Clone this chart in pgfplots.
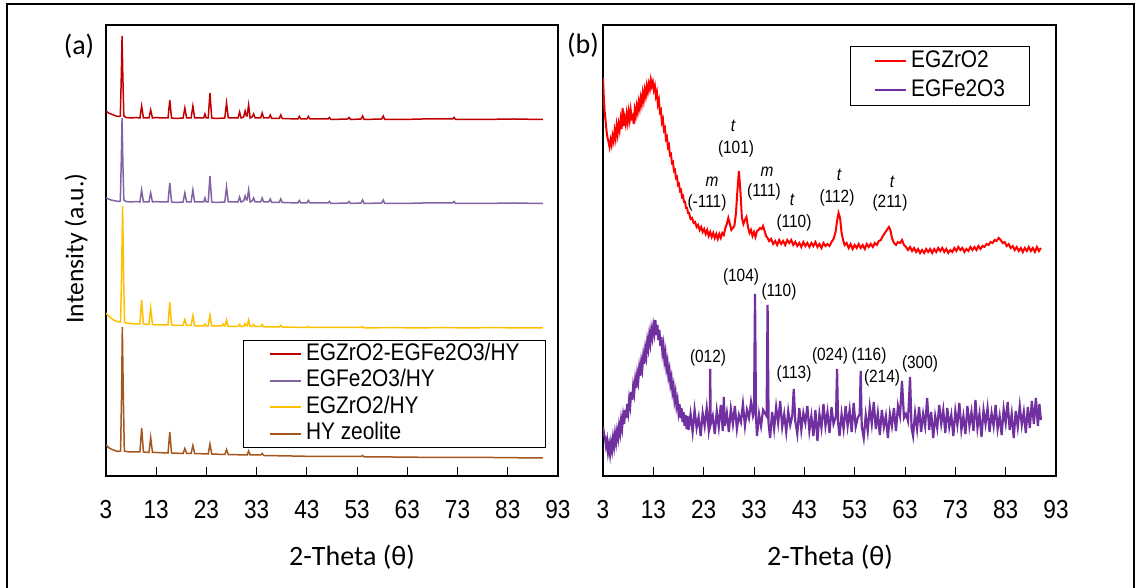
\documentclass[border=0pt]{standalone}
\usepackage{fontspec}
\usepackage{pgfplots}
\pgfplotsset{compat=1.18}
\setmainfont{Liberation Sans}[FakeStretch=0.87]
\newfontfamily\calib{Carlito}

\definecolor{reda}{HTML}{C00000}
\definecolor{purpa}{HTML}{8064A2}
\definecolor{yela}{HTML}{FFC000}
\definecolor{brna}{HTML}{A5561C}
\definecolor{zrred}{rgb}{1,0,0}
\definecolor{purpb}{HTML}{7030A0}

\pgfplotsset{
  xrd/.style={
    scale only axis, height=225.5pt,
    xmin=3, xmax=93, ymin=0, ymax=451,
    xtick={3,13,...,93}, ytick=\empty,
    xtick pos=left, tick align=inside,
    major tick length=4.5pt,
    tick style={black, line width=0.5pt},
    axis line style={line width=0.6pt},
    xticklabel style={font=\fontsize{13}{13}\selectfont, anchor=center, yshift=-17pt},
    /pgf/number format/assume math mode=true,
    legend cell align=left,
  },
}

\begin{document}
\begin{tikzpicture}
\path[use as bounding box] (0pt,0pt) rectangle (570pt,294pt);

% (a) zeolite samples
\begin{axis}[xrd, width=226pt, at={(53pt,56pt)}, anchor=south west,
  legend style={at={(rel axis cs:0.638,0.182)}, anchor=center,
    draw=black, line width=0.5pt, font=\fontsize{12}{12}\selectfont,
    inner xsep=13pt, inner ysep=1.5pt, row sep=2.25pt, column sep=2pt,
    nodes={inner sep=0pt, text height=8.6pt, text depth=2.4pt}},
  legend image code/.code={\draw[#1, line width=0.9pt] (0pt,0pt) -- (15.5pt,0pt);},
]
\addplot[reda, line width=0.75pt] coordinates {
(3,365) (3.5,363) (4,362) (4.5,361) (5,360) (5.5,359.5) (5.85,360) (6.05,400) (6.2,440) (6.35,400) (6.55,360)
(7,358.5) (8,358) (9,358.5) (9.75,358) (10.1,370) (10.45,358) (11.55,358) (11.9,366) (12.25,358) (13,358.5)
(14,358) (15.35,358) (15.7,376) (16.05,358) (17,357.5) (18.35,358) (18.7,368) (19.05,358) (19.95,358) (20.3,370)
(20.65,358) (22.45,358) (22.7,362) (22.95,358) (23.35,358) (23.7,383) (24.05,358) (25,357.5) (26.65,358) (27,373)
(27.35,358) (29.3,358) (29.6,364) (29.9,358) (30.4,359) (30.7,365) (30.95,360) (31.1,360) (31.4,371) (31.7,358)
(32.1,359) (32.4,362) (32.7,358) (33.8,358) (34.1,363) (34.4,358) (35.4,358) (35.7,361) (36,357.5) (37.5,357.5)
(37.8,361) (38.1,357.5) (41.2,357) (41.5,359.5) (41.8,357) (43,357) (43.3,359.5) (43.6,357) (47.2,357) (47.5,358.5)
(47.8,356.5) (51.1,357) (51.4,358.5) (51.7,356.5) (53.8,357) (54.1,360) (54.4,356.5) (57.9,357) (58.2,360) (58.5,356.5)
(62,356.5) (66,357) (72,357) (72.3,358.5) (72.6,356.5) (78,356.5) (84,357) (90,356.5)};
\addlegendentry{EGZrO2-EGFe2O3/HY}
\addplot[purpa, line width=0.75pt] coordinates {
(3,278) (3.5,277) (4,276) (4.5,275.5) (5,275) (5.5,274.5) (5.85,275) (6.05,316) (6.2,358) (6.35,316) (6.55,276)
(7,274.5) (8,274) (9,274.5) (9.75,274) (10.1,286) (10.45,274) (11.55,274) (11.9,283) (12.25,274) (13,274.5)
(14,274) (15.35,274) (15.7,293) (16.05,274) (17,273.5) (18.35,274) (18.7,283) (19.05,274) (19.95,274) (20.3,286)
(20.65,274) (22.45,274) (22.7,278) (22.95,274) (23.35,274) (23.7,300) (24.05,274) (25,273.5) (26.65,274) (27,289)
(27.35,274) (29.3,274) (29.6,279) (29.9,274) (30.4,275) (30.7,280) (30.95,276) (31.1,276) (31.4,286) (31.7,274)
(32.1,275) (32.4,278) (32.7,274) (33.8,274) (34.1,278) (34.4,274) (35.4,274) (35.7,277) (36,273.5) (37.5,273.5)
(37.8,277) (38.1,273.5) (41.2,273) (41.5,275.5) (41.8,273) (43,273) (43.3,275.5) (43.6,273) (47.2,273) (47.5,274.5)
(47.8,272.5) (51.1,273) (51.4,274.5) (51.7,272.5) (53.8,273) (54.1,276) (54.4,272.5) (57.9,273) (58.2,276) (58.5,272.5)
(62,272.5) (66,273) (72,273) (72.3,274.5) (72.6,272.5) (78,272.5) (84,273) (90,272.5)};
\addlegendentry{EGFe2O3/HY}
\addplot[yela, line width=0.75pt] coordinates {
(3,163) (3.5,160) (4,158) (4.5,156) (5,155) (5.5,154) (5.9,154) (6.1,200) (6.3,270) (6.5,200) (6.7,154)
(7,153) (8,152.5) (9,152) (9.75,152) (10.1,176) (10.45,152) (11.55,151.5) (11.9,168) (12.25,151.5) (13,151)
(15.35,151) (15.7,174) (16.05,151) (17,150.5) (18.35,150.5) (18.7,156.5) (19.05,150.5) (19.95,150.5) (20.3,160.5)
(20.65,150) (22.45,150) (22.7,152) (22.95,150) (23.35,150) (23.7,161) (24.05,150) (26,150) (26.3,152) (26.6,150)
(26.75,150) (27,156) (27.35,149.5) (29.3,149.5) (29.6,151.5) (29.9,149.5) (30.4,149.5) (30.7,152.5) (30.95,150)
(31.1,150) (31.4,156) (31.7,149.5) (32.1,149.5) (32.4,151.5) (32.7,149.5) (33.8,149.5) (34.1,151.5) (34.4,149)
(37.5,149) (37.8,150.5) (38.1,149) (43,148.5) (43.3,149.5) (43.6,148.5) (53.8,148.5) (54.1,149.5) (54.4,148)
(60,148.5) (65,148) (70,148.5) (75,148) (80,148.5) (85,148) (90,148)};
\addlegendentry{EGZrO2/HY}
\addplot[brna, line width=0.75pt] coordinates {
(3,31) (3.5,28.5) (4,27) (4.5,26) (5,25) (5.5,24.5) (5.9,25) (6.1,80) (6.25,149) (6.45,80) (6.65,25)
(7,24.5) (8,24) (9,24) (9.75,24) (10.1,48) (10.45,24) (11.55,23.5) (11.9,38.5) (12.25,23.5) (13,23.5)
(15.35,23) (15.7,44) (16.05,23) (18.35,22.5) (18.7,27.5) (19.05,22.5) (19.95,22.5) (20.3,30.5) (20.65,22.5)
(23.35,22) (23.7,32) (24.05,22) (26.65,21.5) (27,26.5) (27.35,21.5) (31.1,21) (31.4,25) (31.7,21)
(33.8,21) (34.1,22.5) (34.4,20.5) (40,20) (45,19.5) (50,19.5) (53.8,19.5) (54.1,20.5) (54.4,19)
(60,19) (70,18.5) (80,18.5) (90,18)};
\addlegendentry{HY zeolite}
\end{axis}

% (b) supported oxides
\begin{axis}[xrd, width=226.5pt, at={(301.5pt,56pt)}, anchor=south west,
  legend style={at={(rel axis cs:0.743,0.887)}, anchor=center,
    draw=black, line width=0.5pt, font=\fontsize{12}{12}\selectfont,
    inner xsep=12pt, inner ysep=2pt, row sep=3.5pt, column sep=2pt,
    nodes={inner sep=0pt, text height=8.6pt, text depth=2.4pt}},
  legend image code/.code={\draw[#1, line width=1pt] (0pt,0pt) -- (15.5pt,0pt);},
]
\addplot[color=zrred, line width=1pt] coordinates {
(3.0,398) (3.15,380) (3.3,366) (3.5,356) (3.7,345) (3.9,338) (4.1,334) (4.3,329) (4.5,336) (4.7,331)
(4.9,340) (5.1,335) (5.3,345) (5.5,338) (5.7,350) (5.9,342) (6.1,352) (6.3,346) (6.5,356) (6.7,347)
(6.9,368) (7.1,350) (7.3,358) (7.5,352) (7.7,362) (7.9,354) (8.1,364) (8.3,356) (8.5,366) (8.7,358)
(8.9,360) (9.1,352) (9.3,366) (9.5,360) (9.7,370) (9.9,364) (10.1,374) (10.3,368) (10.5,378) (10.7,372)
(10.9,383) (11.1,376) (11.3,386) (11.5,380) (11.7,390) (11.9,384) (12.1,392) (12.3,387) (12.5,396) (12.7,390)
(12.9,394) (13.1,386) (13.3,390) (13.5,380) (13.7,384) (13.9,372) (14.1,376) (14.3,364) (14.5,366) (14.7,354)
(14.9,357) (15.1,346) (15.3,348) (15.5,337) (15.7,339) (15.9,329) (16.1,331) (16.3,321) (16.5,322) (16.7,313)
(16.9,314) (17.1,305) (17.3,306) (17.5,298) (17.7,299) (17.9,291) (18.1,292) (18.3,285) (18.5,286) (18.7,279)
(18.9,280) (19.1,274) (19.3,274) (19.5,268) (19.7,268) (19.9,263) (20.1,263) (20.4,257) (20.7,258) (21.0,253)
(21.3,254) (21.6,249) (21.9,251) (22.2,246) (22.5,249) (22.8,244) (23.1,247) (23.4,242) (23.7,246) (24.0,240)
(24.3,244) (24.6,239) (24.9,243) (25.2,238) (25.5,242) (25.8,237) (26.1,242) (26.4,238) (26.7,243) (27.0,241)
(27.3,248) (27.6,252) (27.9,258) (28.2,252) (28.5,246) (28.8,248) (29.1,250) (29.4,262) (29.7,285) (30.0,305)
(30.3,285) (30.6,258) (30.9,252) (31.2,256) (31.5,259) (31.8,249) (32.1,243) (32.4,246) (32.7,240) (33.0,244)
(33.3,239) (33.6,245) (33.9,246) (34.2,248) (34.5,247) (34.8,250) (35.1,245) (35.4,240) (35.7,238) (36.0,235)
(36.4,237) (36.8,232) (37.2,235) (37.6,231) (38.0,236) (38.4,232) (38.8,235) (39.2,231) (39.6,236) (40.0,233)
(40.4,236) (40.8,231) (41.2,234) (41.6,230) (42.0,233) (42.4,229) (42.8,234) (43.2,230) (43.6,233) (44.0,229)
(44.4,233) (44.8,230) (45.2,234) (45.6,229) (46.0,232) (46.4,228) (46.8,233) (47.2,230) (47.6,232) (48.0,230)
(48.4,234) (48.8,237) (49.2,244) (49.5,255) (49.8,263) (50.1,258) (50.4,243) (50.7,236) (51.0,231) (51.4,233)
(51.8,228) (52.2,232) (52.6,227) (53.0,231) (53.4,228) (53.8,232) (54.2,228) (54.6,231) (55.0,227) (55.4,232)
(55.8,229) (56.2,232) (56.6,229) (57.0,233) (57.4,231) (57.8,235) (58.2,236) (58.6,240) (59.0,243) (59.4,246)
(59.8,249) (60.1,246) (60.4,238) (60.8,233) (61.2,231) (61.6,234) (62.0,233) (62.4,236) (62.8,231) (63.2,229)
(63.6,226) (64.0,229) (64.4,225) (64.8,228) (65.2,224) (65.6,227) (66.0,223) (66.4,226) (66.8,223) (67.2,227)
(67.6,224) (68.0,227) (68.4,223) (68.8,227) (69.2,224) (69.6,228) (70.0,225) (70.4,228) (70.8,224) (71.2,227)
(71.6,223) (72.0,226) (72.4,224) (72.8,228) (73.2,225) (73.6,229) (74.0,226) (74.4,228) (74.8,224) (75.2,227)
(75.6,225) (76.0,229) (76.4,226) (76.8,229) (77.2,226) (77.6,230) (78.0,227) (78.4,230) (78.8,229) (79.2,232)
(79.6,231) (80.0,234) (80.4,233) (80.8,236) (81.2,235) (81.6,238) (82.0,236) (82.4,233) (82.8,234) (83.2,230)
(83.6,232) (84.0,228) (84.4,230) (84.8,226) (85.2,229) (85.6,225) (86.0,228) (86.4,224) (86.8,228) (87.2,225)
(87.6,229) (88.0,225) (88.4,228) (88.8,224) (89.2,229) (89.6,225) (90.0,228)};
\addlegendentry{EGZrO2}
\addplot[color=purpb, line width=1.1pt] coordinates {
(3.0,49) (3.2,42) (3.4,38) (3.6,30) (3.8,36) (4.0,24) (4.2,31) (4.4,22) (4.6,33) (4.8,26)
(5.0,38) (5.2,30) (5.4,42) (5.6,34) (5.8,45) (6.0,38) (6.2,50) (6.4,43) (6.6,56) (6.8,48)
(7.0,60) (7.2,52) (7.4,66) (7.6,58) (7.8,72) (8.0,64) (8.2,77) (8.4,70) (8.6,84) (8.8,76)
(9.0,90) (9.2,83) (9.4,96) (9.6,88) (9.8,102) (10.0,95) (10.2,108) (10.4,100) (10.6,114) (10.8,107)
(11.0,120) (11.2,112) (11.4,127) (11.6,120) (11.8,135) (12.0,128) (12.2,141) (12.4,133) (12.6,146) (12.8,139)
(13.0,150) (13.2,143) (13.4,156) (13.6,141) (13.8,151) (14.0,136) (14.2,146) (14.4,130) (14.6,139) (14.8,124)
(15.0,131) (15.2,116) (15.4,123) (15.6,108) (15.8,114) (16.0,100) (16.2,106) (16.4,92) (16.6,98) (16.8,84)
(17.0,90) (17.2,76) (17.4,83) (17.6,70) (17.8,76) (18.0,64) (18.2,72) (18.4,58) (18.6,68) (18.8,54)
(19.0,64) (19.2,50) (19.4,61) (19.6,47) (19.8,60) (20.0,46) (20.4,62) (20.8,44) (21.2,66) (21.6,48)
(22.0,59) (22.4,40) (22.8,63) (23.2,50) (23.6,68) (24.0,46) (24.2,55) (24.3,107) (24.4,52) (24.8,60)
(25.2,42) (25.6,65) (26.0,49) (26.4,71) (26.8,45) (27.0,79) (27.2,50) (27.6,63) (28.0,44) (28.4,67)
(28.8,52) (29.2,70) (29.6,47) (30.0,61) (30.4,54) (30.8,72) (31.2,50) (31.6,66) (32.0,58) (32.4,74)
(32.8,60) (33.0,64) (33.2,182) (33.4,58) (33.6,40) (34.0,62) (34.4,50) (34.8,66) (35.5,60) (35.7,171)
(35.9,52) (36.2,38) (36.6,64) (37.0,47) (37.4,69) (37.8,53) (38.2,75) (38.6,49) (39.0,62) (39.4,44)
(39.8,65) (40.2,51) (40.6,60) (40.9,87) (41.2,55) (41.6,42) (42.0,68) (42.4,46) (42.8,63) (43.2,53)
(43.6,70) (44.0,45) (44.4,60) (44.8,40) (45.2,66) (45.6,35) (46.0,62) (46.4,48) (46.8,72) (47.2,50)
(47.6,64) (48.0,43) (48.4,69) (48.8,52) (49.3,60) (49.5,107) (49.7,54) (50.0,40) (50.4,62) (50.8,47)
(51.2,70) (51.6,50) (52.0,66) (52.4,44) (52.8,73) (53.2,49) (53.6,58) (54.0,62) (54.2,105) (54.4,50)
(54.8,38) (55.2,61) (55.6,45) (56.0,69) (56.4,52) (56.8,74) (57.2,47) (57.6,63) (58.0,41) (58.4,66)
(58.8,49) (59.2,60) (59.6,38) (60.0,62) (60.4,50) (60.8,68) (61.2,45) (61.6,70) (62.0,60) (62.4,95)
(62.8,58) (63.2,62) (63.6,55) (64.0,99) (64.3,48) (64.6,40) (65.0,63) (65.4,47) (65.8,69) (66.2,44)
(66.6,62) (67.0,50) (67.4,78) (67.8,46) (68.2,64) (68.6,38) (69.0,60) (69.4,48) (69.8,71) (70.2,52)
(70.6,66) (71.0,43) (71.4,68) (71.8,49) (72.2,61) (72.6,40) (73.0,65) (73.4,51) (73.8,73) (74.2,46)
(74.6,60) (75.0,42) (75.4,70) (75.8,50) (76.2,64) (76.6,45) (77.0,76) (77.4,48) (77.8,62) (78.2,39)
(78.6,66) (79.0,52) (79.4,68) (79.8,44) (80.2,63) (80.6,50) (81.0,71) (81.4,47) (81.8,60) (82.2,41)
(82.6,67) (83.0,53) (83.4,74) (83.8,46) (84.2,62) (84.6,38) (85.0,65) (85.4,49) (85.8,70) (86.2,51)
(86.6,64) (87.0,43) (87.4,69) (87.8,48) (88.2,75) (88.6,52) (89.0,78) (89.4,50) (89.7,72) (90.0,56)};
\addlegendentry{EGFe2O3}
\end{axis}

% texts, in pixel units of the reference
\begin{scope}[x=0.5pt, y=-0.5pt, shift={(0pt,294pt)}]
\draw[line width=0.6pt] (7,4) rectangle (1134,589);
\node[font=\calib\fontsize{14}{14}\selectfont] at (79,46) {(a)};
\node[font=\calib\fontsize{14}{14}\selectfont] at (583,45) {(b)};
\node[font=\calib\fontsize{12.8}{12.8}\selectfont, rotate=90] at (76,248.5) {Intensity (a.u.)};
\node[font=\calib\fontsize{14}{14}\selectfont] at (352,557) {2-Theta (θ)};
\node[font=\calib\fontsize{14}{14}\selectfont] at (830,557) {2-Theta (θ)};
\begin{scope}[every node/.style={font=\fontsize{8.85}{10}\selectfont, inner sep=0pt}]
\node at (712,182) {\itshape m};  \node at (707,203) {(-111)};
\node at (733,126) {\itshape t};  \node at (736,149) {(101)};
\node at (767,172) {\itshape m};  \node at (764,192) {(111)};
\node at (792,200) {\itshape t};  \node at (794,223) {(110)};
\node at (839,175) {\itshape t};  \node at (837,198) {(112)};
\node at (892,182) {\itshape t};  \node at (890,203) {(211)};
\node at (708,358) {(012)};
\node at (741,277) {(104)};
\node at (779,292) {(110)};
\node at (794,374) {(113)};
\node at (830,356) {(024)};
\node at (869,356) {(116)};
\node at (882,378) {(214)};
\node at (920,364) {(300)};
\end{scope}
\end{scope}
\end{tikzpicture}
\end{document}
